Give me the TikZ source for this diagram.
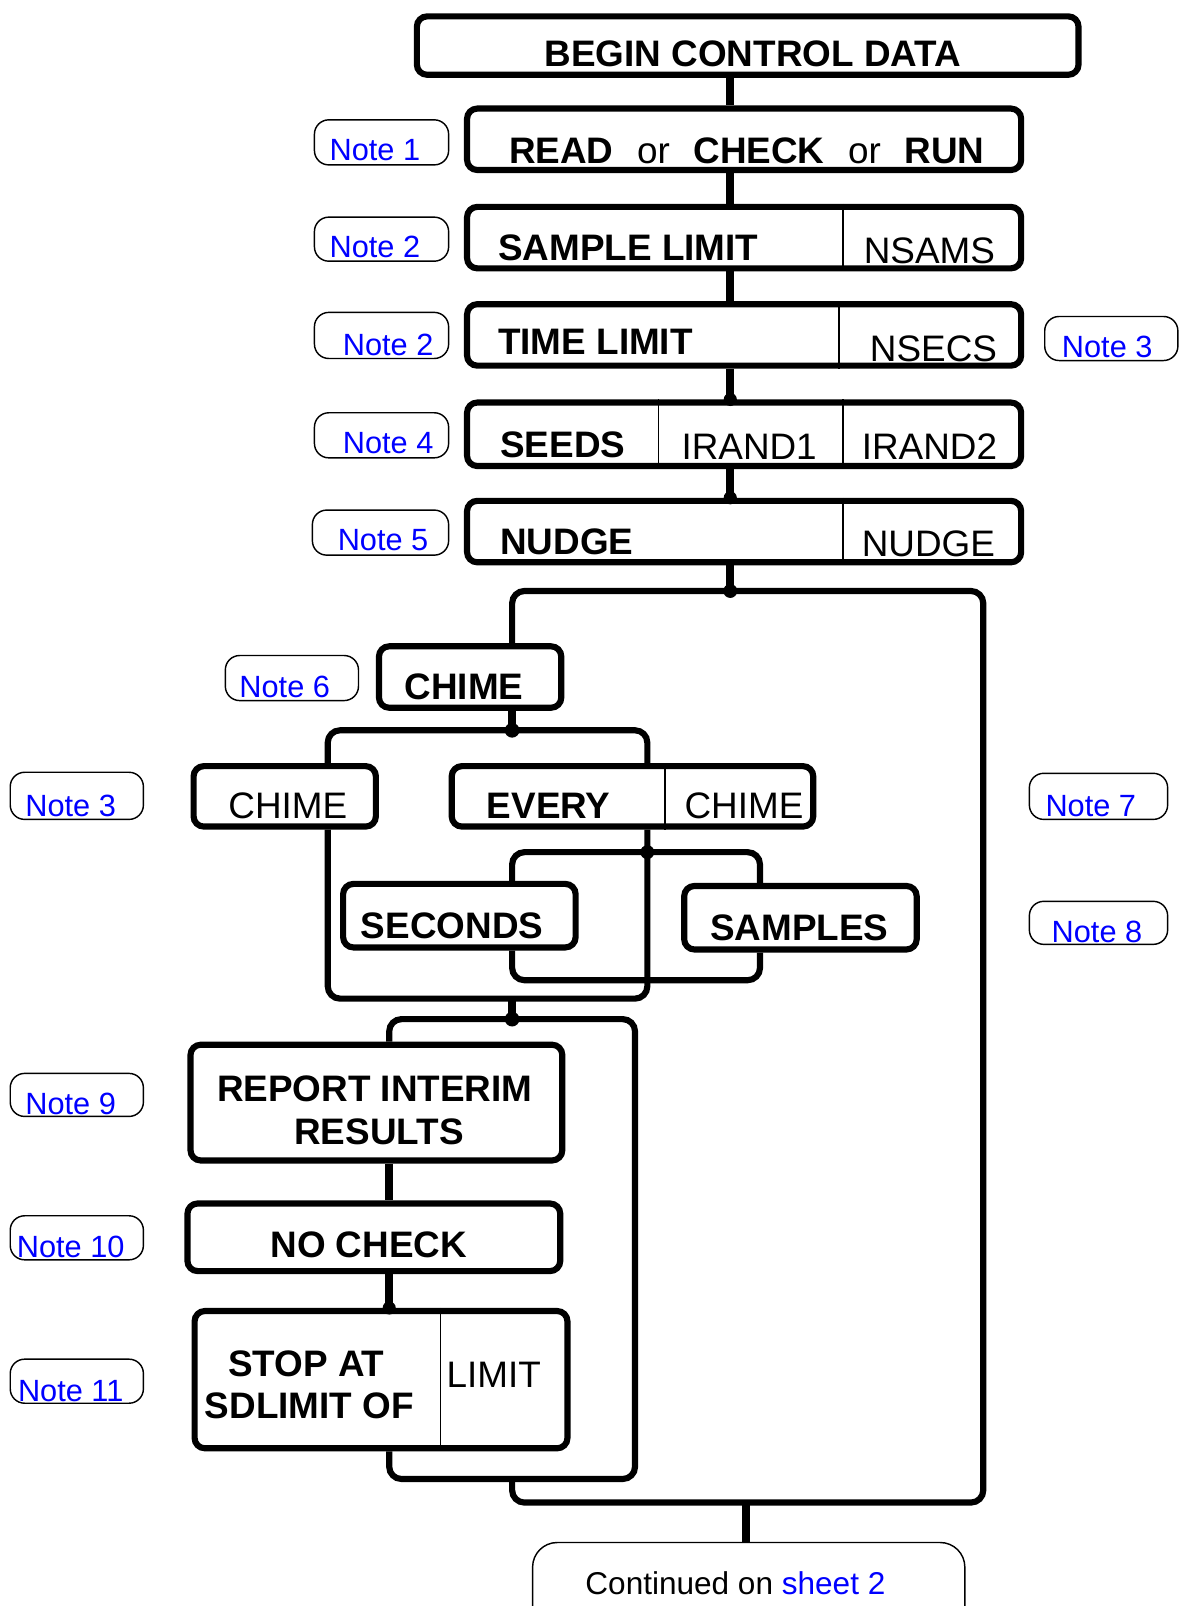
\documentclass[tikz,border=0pt]{standalone}
\usepackage{fontspec}
\setmainfont{Liberation Sans}
\usetikzlibrary{fit}
\definecolor{noteblue}{RGB}{0,0,255}
\tikzset{
  blk/.style={draw, line width=3pt, rounded corners=5pt, inner sep=0pt},
  div/.style={line width=0.8pt},
  wire/.style={line width=4pt},
  lp/.style={line width=3pt, rounded corners=6pt},
  notebox/.style={draw, line width=0.7pt, rounded corners=7pt, inner sep=0pt},
  bt/.style={font=\fontsize{18}{20}\selectfont\bfseries, inner sep=0pt, anchor=base},
  rt/.style={font=\fontsize{18}{20}\selectfont, inner sep=0pt, anchor=base},
  nt/.style={font=\fontsize{15}{17}\selectfont, text=noteblue, inner sep=0pt, anchor=base},
}
\begin{document}
\begin{tikzpicture}[x=0.5pt,y=-0.5pt]
\useasboundingbox (0,0) rectangle (1151,1568);

% vertical lines of the diagram
\coordinate (spine) at (713,0);
\coordinate (outL) at (500,0);
\coordinate (outR) at (960,0);
\coordinate (subL) at (320,0);
\coordinate (subR) at (632,0);
\coordinate (secR) at (742,0);
\coordinate (lowL) at (380,0);
\coordinate (lowR) at (620,0);
\coordinate (outX) at (728,0);
% dividers inside boxes
\coordinate (d823) at (823,0);
\coordinate (d819) at (819,0);
\coordinate (d643) at (643,0);
\coordinate (d649) at (649,0);
\coordinate (d430) at (430,0);
% horizontal levels
\coordinate (topY) at (0,577);
\coordinate (subY) at (0,713);
\coordinate (subB) at (0,975);
\coordinate (secY) at (0,832);
\coordinate (secB) at (0,957);
\coordinate (lowY) at (0,995);
\coordinate (lowB) at (0,1444);
\coordinate (outB) at (0,1467);

% boxes
\node[blk, fit={(407,16) (1053,73)}] (begin) {};
\node[blk, fit={(456,106) (997,166)}] (read) {};
\node[blk, fit={(456,202) (997,262)}] (sample) {};
\node[blk, fit={(456,297) (997,357)}] (time) {};
\node[blk, fit={(456,393) (997,455)}] (seeds) {};
\node[blk, fit={(456,489) (997,549)}] (nudge) {};
\node[blk, fit={(370,631) (548,691)}] (chimeA) {};
\node[blk, fit={(189,748) (367,807)}] (chimeB) {};
\node[blk, fit={(441,748) (794,807)}] (every) {};
\node[blk, fit={(335,863) (562,925)}] (seconds) {};
\node[blk, fit={(668,865) (895,927)}] (samples) {};
\node[blk, fit={(186,1020) (549,1133)}] (report) {};
\node[blk, fit={(183,1175) (547,1241)}] (nocheck) {};
\node[blk, fit={(190,1280) (554,1414)}] (stop) {};
\node[notebox, rounded corners=12pt, fit={(520,1506) (942,1630)}] (cont) {};

% dividers
\draw[div] (sample.north -| d823) -- (sample.south -| d823);
\draw[div] (time.north -| d819) -- (time.south -| d819);
\draw[div] (seeds.north -| d643) -- (seeds.south -| d643);
\draw[div] (seeds.north -| d823) -- (seeds.south -| d823);
\draw[div] (nudge.north -| d823) -- (nudge.south -| d823);
\draw[div] (every.north -| d649) -- (every.south -| d649);
\draw[div] (stop.north -| d430) -- (stop.south -| d430);

% main chain
\draw[wire] (begin.south -| spine) -- (read.north -| spine);
\draw[wire] (read.south -| spine) -- (sample.north -| spine);
\draw[wire] (sample.south -| spine) -- (time.north -| spine);
\draw[wire] (time.south -| spine) -- (seeds.north -| spine);
\draw[wire] (seeds.south -| spine) -- (nudge.north -| spine);
\draw[wire] (nudge.south -| spine) -- (topY -| spine);
\fill (seeds.north -| spine) circle (3.2pt);
\fill (nudge.north -| spine) circle (3.2pt);
\fill (topY -| spine) circle (3.4pt);

% outer loop
\draw[lp] (chimeA.north -| outL) -- (topY -| outL) -- (topY -| outR)
  -- (outB -| outR) -- (outB -| outL) -- (lowB -| outL);
\draw[wire] (outB -| outX) -- (cont.north -| outX);

% chime choice
\draw[wire] (chimeA.south -| outL) -- (subY -| outL);
\fill (subY -| outL) circle (3.6pt);
\draw[lp] (chimeB.north -| subL) -- (subY -| subL) -- (subY -| subR) -- (every.north -| subR);
\draw[lp] (chimeB.south -| subL) -- (subB -| subL) -- (subB -| subR) -- (every.south -| subR);

% seconds / samples choice
\fill (secY -| subR) circle (3.4pt);
\draw[lp] (seconds.north -| outL) -- (secY -| outL) -- (secY -| secR) -- (samples.north -| secR);
\draw[lp] (seconds.south -| outL) -- (secB -| outL) -- (secB -| secR) -- (samples.south -| secR);

% lower loop
\draw[wire] (subB -| outL) -- (lowY -| outL);
\fill (lowY -| outL) circle (3.6pt);
\draw[lp] (report.north -| lowL) -- (lowY -| lowL) -- (lowY -| lowR)
  -- (lowB -| lowR) -- (lowB -| lowL) -- (stop.south -| lowL);
\draw[wire] (report.south -| lowL) -- (nocheck.north -| lowL);
\draw[wire] (nocheck.south -| lowL) -- (stop.north -| lowL);
\fill (stop.north -| lowL) circle (3.2pt);

% box texts
\node[bt] (tbegin) at (735,65) {BEGIN CONTROL DATA};
\node[bt] (tread) at (729,160) {READ\hspace{11.5pt}{\mdseries or}\hspace{11.5pt}CHECK\hspace{11.5pt}{\mdseries or}\hspace{11.5pt}RUN};
\node[bt, anchor=base west] (tsample) at (486,254) {SAMPLE LIMIT};
\node[rt, anchor=base west] (tnsams) at (843,257) {NSAMS};
\node[bt, anchor=base west] (ttime) at (486,346) {TIME LIMIT};
\node[rt, anchor=base west] (tnsecs) at (849,353) {NSECS};
\node[bt, anchor=base west] (tseeds) at (488,447) {SEEDS};
\node[rt, anchor=base west] (tir1) at (665,449) {IRAND1};
\node[rt, anchor=base west] (tir2) at (841,449) {IRAND2};
\node[bt, anchor=base west] (tnudge) at (488,541) {NUDGE};
\node[rt, anchor=base west] (tnudgev) at (841,543) {NUDGE};
\node[bt] (tchimeA) at (453,683) {CHIME};
\node[rt] (tchimeB) at (281,799) {CHIME};
\node[bt, anchor=base west] (tevery) at (475,799) {EVERY};
\node[rt, anchor=base west] (tchimeC) at (668,799) {CHIME};
\node[bt, anchor=base west] (tsec) at (352,916) {SECONDS};
\node[bt, anchor=base west] (tsam) at (693,918) {SAMPLES};
\node[bt] (trep1) at (366,1075) {REPORT INTERIM};
\node[bt] (trep2) at (370,1117) {RESULTS};
\node[bt] (tnoc) at (360,1228) {NO CHECK};
\node[bt] (tstop1) at (299,1344) {STOP AT};
\node[bt] (tstop2) at (302,1385) {SDLIMIT OF};
\node[rt] (tlimit) at (482,1355) {LIMIT};
\node[inner sep=0pt, anchor=base, font=\fontsize{15.4}{17}\selectfont] (tcont) at (718,1557)
  {Continued on \textcolor{noteblue}{sheet 2}};

% notes
\node[notebox, fit={(307,117) (438,161)}] (n1) {};
\node[nt] (tn1) at (366,157) {Note 1};
\node[notebox, fit={(307,212) (438,255)}] (n2a) {};
\node[nt] (tn2a) at (366,251) {Note 2};
\node[notebox, fit={(307,305) (438,350)}] (n2b) {};
\node[nt] (tn2b) at (379,347) {Note 2};
\node[notebox, fit={(1020,309) (1150,352)}] (n3a) {};
\node[nt] (tn3a) at (1081,349) {Note 3};
\node[notebox, fit={(307,403) (438,447)}] (n4) {};
\node[nt] (tn4) at (379,443) {Note 4};
\node[notebox, fit={(305,498) (438,542)}] (n5) {};
\node[nt] (tn5) at (374,537) {Note 5};
\node[notebox, fit={(220,640) (350,684)}] (n6) {};
\node[nt] (tn6) at (278,681) {Note 6};
\node[notebox, fit={(10,754) (140,800)}] (n3b) {};
\node[nt] (tn3b) at (69,797) {Note 3};
\node[notebox, fit={(1005,755) (1140,800)}] (n7) {};
\node[nt] (tn7) at (1065,797) {Note 7};
\node[notebox, fit={(1005,880) (1140,922)}] (n8) {};
\node[nt] (tn8) at (1071,920) {Note 8};
\node[notebox, fit={(10,1048) (140,1090)}] (n9) {};
\node[nt] (tn9) at (69,1088) {Note 9};
\node[notebox, fit={(10,1187) (140,1230)}] (n10) {};
\node[nt] (tn10) at (69,1228) {Note 10};
\node[notebox, fit={(10,1327) (140,1370)}] (n11) {};
\node[nt] (tn11) at (69,1368) {Note 11};
\end{tikzpicture}
\end{document}
